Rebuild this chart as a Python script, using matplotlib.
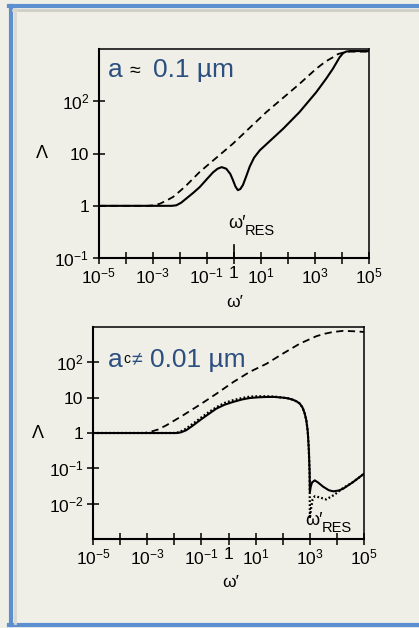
import numpy as np
from matplotlib import pyplot as plt
from matplotlib.lines import Line2D

plt.rcParams['font.family'] = ['Liberation Sans', 'DejaVu Sans']
plt.rcParams['mathtext.fontset'] = 'custom'
plt.rcParams['mathtext.rm'] = 'Liberation Sans'
plt.rcParams['mathtext.it'] = 'Liberation Sans'
plt.rcParams['mathtext.bf'] = 'Liberation Sans:bold'

# values, as log10(omega') and log10(Lambda)
top_dash_w = [-5, -3.2, -2.95, -2.74, -2.5, -2.25, -2.0, -1.76, -1.26, -0.03, 1.2, 2.43, 3.05, 3.4, 3.67, 3.85, 4.04, 4.3, 5]
top_dash_L = [0, 0, 0.01, 0.04, 0.10, 0.17, 0.28, 0.39, 0.65, 1.19, 1.79, 2.33, 2.62, 2.76, 2.84, 2.9, 2.93, 2.95, 2.95]

top_solid_w = [-5, -2.3, -2.13, -1.95, -1.76, -1.5, -1.26, -1.0, -0.77, -0.6, -0.45, -0.28, -0.13, -0.03, 0.06,
               0.15, 0.24, 0.34, 0.45, 0.59, 0.75, 0.96, 1.4, 1.82, 2.43, 3.05, 3.42, 3.67, 3.92, 4.05, 4.16, 4.3, 5]
top_solid_L = [0, 0, 0.01, 0.06, 0.14, 0.25, 0.36, 0.51, 0.64, 0.71, 0.74, 0.71, 0.61, 0.49, 0.37,
               0.30, 0.32, 0.40, 0.55, 0.75, 0.92, 1.06, 1.27, 1.47, 1.79, 2.17, 2.43, 2.62, 2.84, 2.92, 2.95, 2.96, 2.96]

bot_dash_w = [-5, -3.1, -2.9, -2.6, -2.29, -1.68, -1.06, -0.45, 0.17, 0.78, 1.4, 2.01, 2.63, 3.24, 3.55, 3.86, 4.22, 4.6, 5]
bot_dash_L = [0, 0, 0.03, 0.1, 0.22, 0.5, 0.8, 1.11, 1.44, 1.73, 1.96, 2.25, 2.53, 2.74, 2.81, 2.86, 2.89, 2.88, 2.86]

bot_solid_w = [-5, -1.9, -1.75, -1.56, -1.3, -1.06, -0.75, -0.45, -0.15, 0.17, 0.5, 0.78, 1.1, 1.4, 1.7, 2.01, 2.2,
               2.38, 2.52, 2.63, 2.73, 2.81, 2.87, 2.92, 2.96, 2.99, 3.0, 3.03, 3.08, 3.18, 3.3, 3.49, 3.7, 3.86,
               4.05, 4.22, 4.59, 5]
bot_solid_L = [0, 0, 0.02, 0.08, 0.22, 0.36, 0.53, 0.69, 0.8, 0.88, 0.95, 0.99, 1.01, 1.02, 1.02, 1.0, 0.98,
               0.94, 0.89, 0.83, 0.72, 0.55, 0.35, 0.05, -0.45, -1.1, -1.67, -1.52, -1.4, -1.34, -1.4, -1.52, -1.62, -1.65,
               -1.63, -1.58, -1.39, -1.15]

bot_dot_w = [-5, -1.95, -1.8, -1.6, -1.3, -1.06, -0.75, -0.45, -0.15, 0.17, 0.5, 0.78, 1.1, 1.4, 1.7, 2.01, 2.2,
             2.38, 2.52, 2.63, 2.73, 2.81, 2.87, 2.92, 2.96, 2.99, 3.0, 3.04, 3.1, 3.18, 3.35, 3.6, 3.9, 4.22, 4.59, 5]
bot_dot_L = [0, 0, 0.03, 0.11, 0.27, 0.41, 0.58, 0.73, 0.85, 0.93, 0.99, 1.03, 1.04, 1.04, 1.03, 1.0, 0.98,
             0.94, 0.89, 0.83, 0.72, 0.55, 0.35, 0.05, -0.45, -1.2, -2.42, -2.15, -1.88, -1.79, -1.82, -1.88, -1.75, -1.56, -1.39, -1.15]

x_ticks = [1e-5, 1e-4, 1e-3, 1e-2, 1e-1, 1, 1e1, 1e2, 1e3, 1e4, 1e5]
x_labels = [r'10$^{-5}$', '', r'10$^{-3}$', '', r'10$^{-1}$', '1', r'10$^{1}$', '', r'10$^{3}$', '', r'10$^{5}$']
top_yticks = [0.1, 1, 10, 100]
top_ylabels = [r'10$^{-1}$', '1', '10', r'10$^{2}$']
bot_yticks = [0.01, 0.1, 1, 10, 100]
bot_ylabels = [r'10$^{-2}$', r'10$^{-1}$', '1', '10', r'10$^{2}$']

bg = '#efefe7'
blue = '#2c4f80'

fig = plt.figure(figsize=(4.19, 6.28), dpi=100, facecolor=bg)

def setup(ax, ylim, yt, yl):
  ax.set_facecolor('none')
  ax.set_xscale('log')
  ax.set_yscale('log')
  ax.set_xlim(1e-5, 1e5)
  ax.set_ylim(*ylim)
  ax.set_xticks(x_ticks, labels=x_labels)
  ax.set_yticks(yt, labels=yl)
  ax.minorticks_off()
  ax.tick_params(direction='inout', length=8, width=1.1, labelsize=12.5, color='black')
  ax.tick_params(axis='x', pad=2)
  ax.tick_params(axis='y', pad=3)
  for s in ['left', 'bottom']:
    ax.spines[s].set_linewidth(1.5)
  for s in ['top', 'right']:
    ax.spines[s].set_linewidth(1.1)

def p(v):
  return 10.0 ** np.array(v)

def res_label(ax, x, y):
  ax.text(x, y + 0.014, 'ω′', transform=ax.transAxes, ha='left', va='center', fontsize=13)
  ax.text(x + 0.063, y - 0.022, 'RES', transform=ax.transAxes, ha='left', va='center', fontsize=10.5)

# top panel
ax1 = fig.add_axes([0.236, 0.589, 0.644, 0.333])
setup(ax1, (0.1, 1000), top_yticks, top_ylabels)
ax1.plot(p(top_dash_w), p(top_dash_L), color='k', linewidth=1.3, dashes=(4, 2.5))
ax1.plot(p(top_solid_w), p(top_solid_L), color='k', linewidth=1.5)
ax1.axvline(1, ymin=0, ymax=0.065, color='k', linewidth=1.2)
res_label(ax1, 0.478, 0.153)
ax1.text(-0.211, 0.498, 'Λ', transform=ax1.transAxes, ha='center', va='center', fontsize=13)
ax1.text(0.504, -0.21, "ω′", transform=ax1.transAxes, ha='center', va='center', fontsize=12.5)
ax1.text(0.033, 0.9, 'a', transform=ax1.transAxes, ha='left', va='center', fontsize=19, color=blue)
ax1.text(0.112, 0.89, '≈', transform=ax1.transAxes, ha='left', va='center', fontsize=14, color='k')
ax1.text(0.2, 0.9, '0.1 µm', transform=ax1.transAxes, ha='left', va='center', fontsize=19, color=blue)

# bottom panel
ax2 = fig.add_axes([0.222, 0.1417, 0.647, 0.3376])
setup(ax2, (1e-3, 1e3), bot_yticks, bot_ylabels)
ax2.plot(p(bot_dash_w), p(bot_dash_L), color='k', linewidth=1.3, dashes=(4, 2.5))
ax2.plot(p(bot_dot_w), p(bot_dot_L), color='k', linewidth=1.6, linestyle=(0, (0.8, 1.0)))
ax2.plot(p(bot_solid_w), p(bot_solid_L), color='k', linewidth=1.5)
res_label(ax2, 0.782, 0.075)
ax2.text(-0.203, 0.5, 'Λ', transform=ax2.transAxes, ha='center', va='center', fontsize=13)
ax2.text(0.506, -0.203, "ω′", transform=ax2.transAxes, ha='center', va='center', fontsize=12.5)
ax2.text(0.055, 0.845, 'a', transform=ax2.transAxes, ha='left', va='center', fontsize=19, color=blue)
ax2.text(0.112, 0.85, 'c', transform=ax2.transAxes, ha='left', va='center', fontsize=10, color='k')
ax2.text(0.143, 0.845, '≠', transform=ax2.transAxes, ha='left', va='center', fontsize=14, color=blue)
ax2.text(0.212, 0.845, '0.01 µm', transform=ax2.transAxes, ha='left', va='center', fontsize=19, color=blue)

# slide frame
W, H = 419.0, 628.0
border = '#5b8fcf'
fig.add_artist(Line2D([11 / W, 11 / W], [1 - 6 / H, 1 - 625 / H], transform=fig.transFigure, color=border, linewidth=3))
fig.add_artist(Line2D([9 / W, 1], [1 - 6 / H, 1 - 6 / H], transform=fig.transFigure, color=border, linewidth=3))
fig.add_artist(Line2D([9 / W, 1], [1 - 625 / H, 1 - 625 / H], transform=fig.transFigure, color=border, linewidth=3))
fig.add_artist(Line2D([13 / W, 1], [1 - 10 / H, 1 - 10 / H], transform=fig.transFigure, color='#cfcfc8', linewidth=2))
fig.add_artist(Line2D([15 / W, 15 / W], [1 - 9 / H, 1 - 623 / H], transform=fig.transFigure, color='#d8d8d0', linewidth=2))

fig.savefig('out.png', dpi=100, facecolor=bg)
